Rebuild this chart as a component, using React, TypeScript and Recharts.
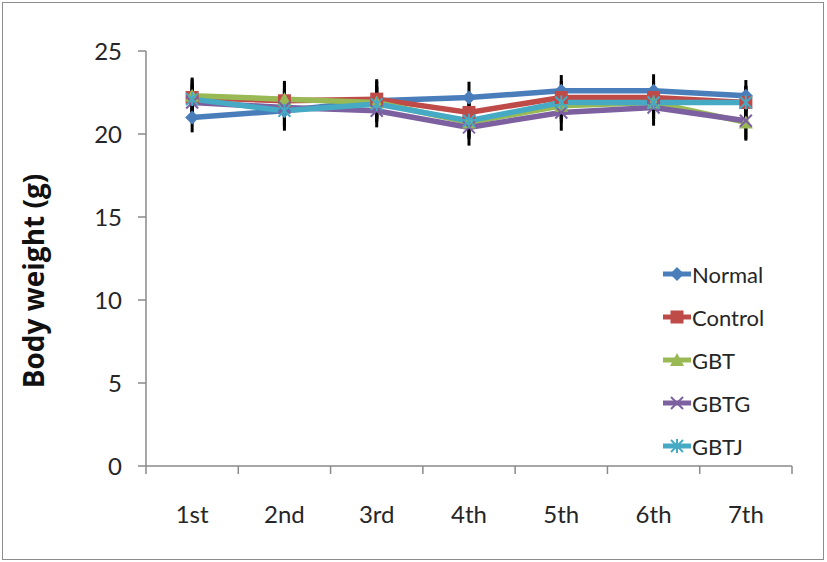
import React from "react";
import {
  ErrorBar,
  Line,
  LineChart,
  XAxis,
  YAxis,
} from "recharts";

const weeks = ["1st", "2nd", "3rd", "4th", "5th", "6th", "7th"];

const normal = [21.0, 21.4, 22.0, 22.2, 22.6, 22.6, 22.3];
const control = [22.2, 22.0, 22.1, 21.3, 22.2, 22.2, 21.9];
const gbt = [22.3, 22.1, 21.9, 20.7, 21.7, 21.9, 20.7];
const gbtg = [21.9, 21.6, 21.4, 20.4, 21.3, 21.6, 20.8];
const gbtj = [22.1, 21.4, 21.8, 20.8, 21.9, 21.9, 21.9];

const normalErr = [0.9, 1.2, 1.3, 0.95, 0.95, 1.0, 0.95];
const controlErr = [1.1, 1.1, 1.1, 1.0, 1.0, 1.0, 1.0];
const gbtErr = [1.1, 1.1, 1.0, 1.0, 1.0, 1.0, 1.0];
const gbtgErr = [1.0, 1.1, 1.0, 1.1, 1.1, 1.1, 1.2];
const gbtjErr = [1.0, 1.0, 1.0, 1.0, 1.0, 1.0, 1.0];

const yTicks = [0, 5, 10, 15, 20, 25];

const series = [
  { key: "Normal", values: normal, err: normalErr, color: "#4a7ebb", shape: "diamond" },
  { key: "Control", values: control, err: controlErr, color: "#be4b48", shape: "square" },
  { key: "GBT", values: gbt, err: gbtErr, color: "#98b954", shape: "triangle" },
  { key: "GBTG", values: gbtg, err: gbtgErr, color: "#7d60a0", shape: "x" },
  { key: "GBTJ", values: gbtj, err: gbtjErr, color: "#46aac5", shape: "star" },
];

const data = weeks.map((w, i) => {
  const row: Record<string, number | string> = { week: w, x: i + 0.5 };
  series.forEach((s) => {
    row[s.key] = s.values[i];
    row[s.key + "Err"] = s.err[i];
  });
  return row;
});

const FONT = "Lato, 'Open Sans', sans-serif";
const TEXT = "#262626";
const AXIS = "#8a8a8a";

function Marker({ cx, cy, shape, color }: { cx: number; cy: number; shape: string; color: string }) {
  if (cx == null || cy == null) return null;
  switch (shape) {
    case "diamond":
      return <polygon points={`${cx},${cy - 7} ${cx + 7},${cy} ${cx},${cy + 7} ${cx - 7},${cy}`} fill={color} />;
    case "square":
      return <rect x={cx - 6.5} y={cy - 6.5} width={13} height={13} fill={color} />;
    case "triangle":
      return <polygon points={`${cx},${cy - 7} ${cx + 7},${cy + 6} ${cx - 7},${cy + 6}`} fill={color} />;
    case "x":
      return (
        <g stroke={color} strokeWidth={2}>
          <line x1={cx - 6} y1={cy - 6} x2={cx + 6} y2={cy + 6} />
          <line x1={cx - 6} y1={cy + 6} x2={cx + 6} y2={cy - 6} />
        </g>
      );
    default:
      return (
        <g stroke={color} strokeWidth={2}>
          <line x1={cx - 6} y1={cy - 6} x2={cx + 6} y2={cy + 6} />
          <line x1={cx - 6} y1={cy + 6} x2={cx + 6} y2={cy - 6} />
          <line x1={cx} y1={cy - 7} x2={cx} y2={cy + 7} />
        </g>
      );
  }
}

// ticks sit on category boundaries (0..7); label goes in the middle of each band
function WeekTick(props: any) {
  const { x, y, payload } = props;
  const i = payload.value;
  if (i >= weeks.length) return null;
  const half = (792 - 146) / weeks.length / 2;
  return (
    <text x={x + half} y={y + 47} textAnchor="middle" fontSize={24} fill={TEXT} fontFamily={FONT}>
      {weeks[i]}
    </text>
  );
}

function YTitle() {
  return (
    <text
      x={0}
      y={0}
      transform="translate(44, 281) rotate(-90)"
      textAnchor="middle"
      fontSize={28}
      fontWeight={700}
      fill="#111"
      fontFamily="'Open Sans', sans-serif"
    >
      Body weight (g)
    </text>
  );
}

export default function App() {
  return (
    <div
      style={{
        position: "absolute",
        left: 0,
        top: 0,
        width: 827,
        height: 562,
        background: "#fff",
        fontFamily: FONT,
      }}
    >
      <div
        style={{
          position: "absolute",
          left: 2,
          top: 2,
          width: 820,
          height: 556,
          border: "1.5px solid #8c8c8c",
        }}
      />
      <LineChart
        width={827}
        height={562}
        data={data}
        margin={{ top: 51, right: 35, bottom: 36, left: 0 }}
      >
        <XAxis
          dataKey="x"
          type="number"
          domain={[0, weeks.length]}
          ticks={[0, 1, 2, 3, 4, 5, 6, 7]}
          interval={0}
          height={60}
          stroke={AXIS}
          strokeWidth={1.5}
          tickSize={8}
          tick={<WeekTick />}
        />
        <YAxis
          type="number"
          domain={[0, 25]}
          ticks={yTicks}
          width={146}
          stroke={AXIS}
          strokeWidth={1.5}
          tickSize={8}
          tickMargin={16}
          tick={{ fontSize: 24, fill: TEXT, fontFamily: FONT }}
          label={<YTitle />}
        />
        {series.map((s) => (
          <Line
            key={s.key}
            dataKey={s.key}
            stroke={s.color}
            strokeWidth={5.5}
            isAnimationActive={false}
            dot={(p: any) => (
              <Marker key={`${s.key}-${p.index}`} cx={p.cx} cy={p.cy} shape={s.shape} color={s.color} />
            )}
            activeDot={false}
          >
            <ErrorBar dataKey={s.key + "Err"} width={0} strokeWidth={3} stroke="#000" direction="y" />
          </Line>
        ))}
      </LineChart>
      {series.map((s, i) => (
        <div
          key={s.key}
          style={{
            position: "absolute",
            left: 662,
            top: 274 + i * 43 - 16,
            height: 32,
            display: "flex",
            alignItems: "center",
          }}
        >
          <svg width={30} height={20}>
            <line x1={1} y1={10} x2={29} y2={10} stroke={s.color} strokeWidth={5} />
            <Marker cx={15} cy={10} shape={s.shape} color={s.color} />
          </svg>
          <span style={{ fontSize: 22, color: TEXT, marginLeft: 0 }}>{s.key}</span>
        </div>
      ))}
    </div>
  );
}
